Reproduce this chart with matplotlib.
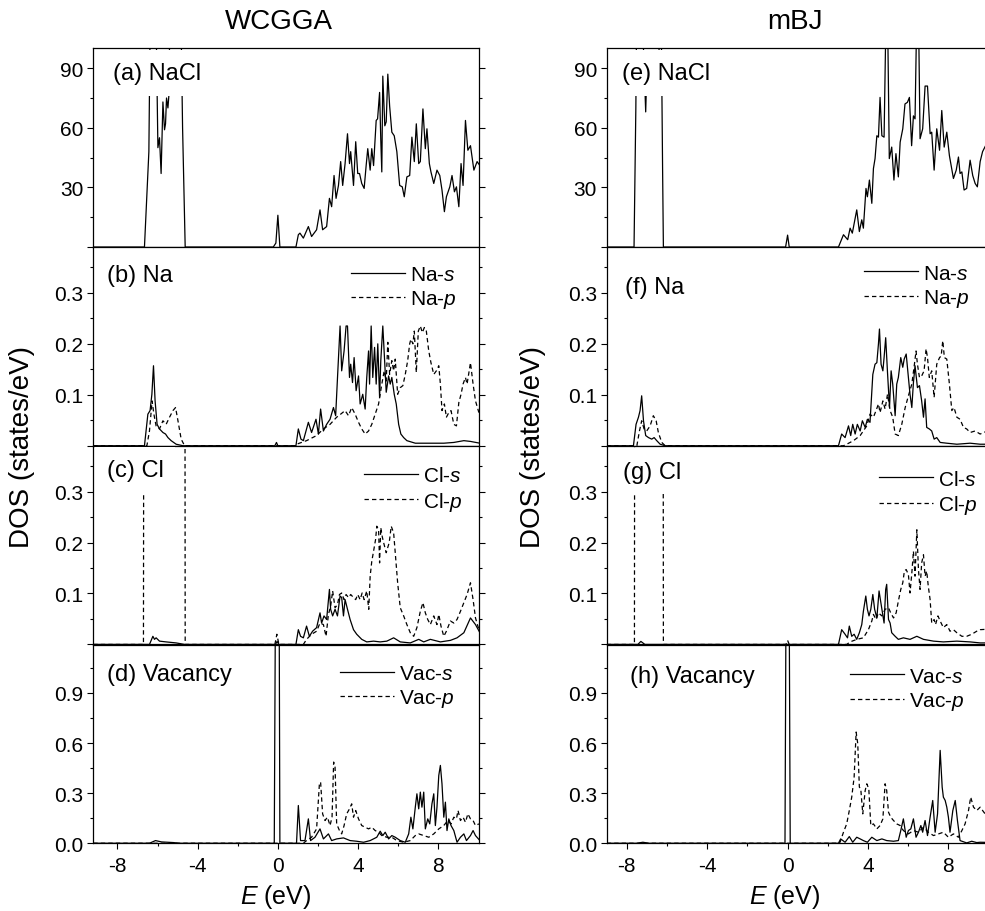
import matplotlib
matplotlib.use('Agg')
import matplotlib.pyplot as plt
from matplotlib.ticker import FixedLocator

plt.rcParams['font.family'] = ['Liberation Sans', 'DejaVu Sans']
plt.rcParams['mathtext.fontset'] = 'custom'
plt.rcParams['mathtext.rm'] = 'Liberation Sans'
plt.rcParams['mathtext.it'] = 'Liberation Sans:italic'
plt.rcParams['axes.unicode_minus'] = False

# ---------------- DATA ----------------
col_titles = ['WCGGA', 'mBJ']
panel_labels = [['(a) NaCl', '(b) Na', '(c) Cl', '(d) Vacancy'],
                ['(e) NaCl', '(f) Na', '(g) Cl', '(h) Vacancy']]
legend_labels = [['Na-$\\mathit{s}$', 'Na-$\\mathit{p}$'],
                 ['Cl-$\\mathit{s}$', 'Cl-$\\mathit{p}$'],
                 ['Vac-$\\mathit{s}$', 'Vac-$\\mathit{p}$']]
x_ticks = [-8, -4, 0, 4, 8]

# (a) WCGGA total NaCl
wc_tot_E = [-9.2, -6.65, -6.43, -6.35, -6.1, -6.05, -5.98, -5.9, -5.82, -5.73, -5.65, -5.6, -5.55, -5.48, -5.42,
            -5.38, -4.85, -4.75, -4.62, -0.23, -0.1, 0.0, 0.1, 0.9, 1.02, 1.1, 1.27, 1.52, 1.68, 1.93, 2.1, 2.23,
            2.43, 2.57, 2.68, 2.8, 2.9, 3.02, 3.13, 3.23, 3.35, 3.47, 3.57, 3.63, 3.77, 3.88, 3.98, 4.07, 4.18,
            4.3, 4.4, 4.48, 4.6, 4.68, 4.77, 4.9, 4.97, 5.07, 5.13, 5.18, 5.23, 5.33, 5.4, 5.48, 5.57, 5.68, 5.8,
            5.93, 6.07, 6.2, 6.3, 6.43, 6.57, 6.68, 6.8, 6.9, 7.02, 7.1, 7.23, 7.35, 7.43, 7.55, 7.63, 7.77, 7.93,
            8.07, 8.18, 8.3, 8.4, 8.57, 8.68, 8.8, 8.9, 9.02, 9.13, 9.23, 9.35, 9.47, 9.6, 9.77, 9.93, 10.07]
wc_tot_D = [0, 0, 48, 130, 130, 100, 50, 55, 37, 73, 59, 62, 75, 70, 78,
            130, 130, 60, 0, 0, 2, 16, 0, 0, 6.2, 7, 4.5, 10.3, 5.3, 8.7, 18.7, 8.7,
            10.3, 24.5, 20.3, 36, 24.5, 31, 43, 31, 42, 57, 42, 48, 31, 53, 37, 37, 32,
            29.5, 41, 49.5, 38.7, 49.5, 41, 63.7, 64.5, 77.8, 53.7, 37.8, 86, 61, 63, 87, 71, 57.8, 56,
            48, 31, 30.3, 25.3, 35.3, 36, 55.3, 43, 62, 42, 43, 69.5, 49.5, 59.5, 42, 37.8, 32, 38.7,
            36, 28.7, 17.8, 25.3, 30.3, 36, 27.8, 30.3, 20.3, 42, 31, 63.7, 48.7, 51, 38.7, 43, 41]

# (e) mBJ total NaCl
mb_tot_E = [-9.0, -7.64, -7.55, -7.5, -7.4, -7.3, -7.15, -7.06, -7.0, -6.8, -6.6, -6.4, -6.3, -6.22, -6.18,
            -0.1, 0.0, 0.08, 2.53, 2.78, 2.99, 3.11, 3.22, 3.44, 3.57, 3.69, 3.77, 3.9, 3.97, 4.07, 4.19, 4.27,
            4.35, 4.44, 4.52, 4.6, 4.69, 4.8, 4.9, 4.97, 5.06, 5.18, 5.29, 5.39, 5.51, 5.6, 5.73, 5.84, 5.96,
            6.06, 6.17, 6.26, 6.34, 6.43, 6.51, 6.59, 6.72, 6.84, 6.96, 7.09, 7.17, 7.29, 7.42, 7.56, 7.67,
            7.79, 7.92, 8.05, 8.25, 8.39, 8.5, 8.58, 8.67, 8.78, 8.91, 9.08, 9.21, 9.33, 9.44, 9.58, 9.7, 9.9]
mb_tot_D = [0, 0, 70, 130, 110, 130, 95, 68, 90, 95, 92, 98, 130, 40, 0,
            0, 6, 0, 0, 6.2, 3.7, 9.5, 7, 18.7, 7.8, 13.7, 9.5, 29.5, 25.3, 33.7, 22, 39.5,
            44.5, 56, 55.3, 75.3, 56, 55.3, 120, 120, 44.5, 50.3, 33.7, 47, 35.3, 52.8, 59.5, 72, 72.8,
            75.3, 51, 66, 64.5, 120, 120, 54.5, 59.5, 81, 81, 57, 57.8, 38.7, 59.5, 48.7, 68.7,
            50.3, 57.8, 46, 34.5, 38.7, 45.3, 37, 37.8, 28.7, 29.5, 43.7, 36, 32, 30.3, 43, 48, 52]

# (b) WCGGA Na-s / Na-p
wc_nas_E = [-9.2, -6.65, -6.48, -6.37, -6.28, -6.2, -6.12, -6.02, -5.9, -5.73, -5.6, -5.48, -5.32, -5.07, -4.73,
            -0.15, -0.07, 0.0, 0.9, 1.02, 1.15, 1.27, 1.52, 1.68, 1.9, 2.02, 2.13, 2.27, 2.43, 2.6, 2.77, 2.88,
            2.98, 3.1, 3.18, 3.3, 3.4, 3.47, 3.57, 3.63, 3.72, 3.8, 3.9, 4.02, 4.1, 4.23, 4.35, 4.43, 4.52,
            4.57, 4.65, 4.73, 4.82, 4.9, 4.98, 5.07, 5.13, 5.23, 5.33, 5.4, 5.52, 5.6, 5.68, 5.8, 5.9, 6.02,
            6.13, 6.27, 6.43, 6.85, 7.27, 7.77, 8.27, 8.77, 9.27, 9.6, 10.07]
wc_nas_D = [0, 0, 0.062, 0.069, 0.101, 0.157, 0.088, 0.042, 0.033, 0.026, 0.023, 0.016, 0.01, 0.003, 0,
            0, 0.0065, 0, 0, 0.033, 0.013, 0.01, 0.046, 0.026, 0.052, 0.023, 0.072, 0.029, 0.042, 0.052, 0.075, 0.059,
            0.14, 0.235, 0.147, 0.186, 0.235, 0.235, 0.134, 0.16, 0.124, 0.173, 0.108, 0.137, 0.082, 0.101, 0.072, 0.134, 0.186,
            0.121, 0.235, 0.134, 0.193, 0.121, 0.2, 0.095, 0.167, 0.235, 0.16, 0.105, 0.137, 0.121, 0.134, 0.101, 0.082, 0.042,
            0.023, 0.016, 0.01, 0.005, 0.005, 0.005, 0.005, 0.0065, 0.01, 0.0085, 0.005]
wc_nap_E = [-9.2, -6.53, -6.4, -6.27, -6.18, -6.07, -5.9, -5.73, -5.57, -5.4, -5.23, -5.1, -4.98, -4.82, -4.65,
            0.85, 0.93, 1.43, 1.93, 2.27, 2.6, 2.93, 3.13, 3.35, 3.52, 3.68, 3.85, 4.02, 4.18, 4.35, 4.52, 4.68,
            4.85, 5.02, 5.18, 5.3, 5.4, 5.48, 5.57, 5.68, 5.77, 5.85, 5.97, 6.1, 6.23, 6.35, 6.47, 6.57, 6.63,
            6.73, 6.8, 6.9, 7.0, 7.1, 7.2, 7.3, 7.4, 7.52, 7.63, 7.77, 7.9, 8.02, 8.1, 8.18, 8.3, 8.4, 8.52,
            8.63, 8.77, 8.9, 9.02, 9.13, 9.23, 9.35, 9.43, 9.6, 9.73, 9.85, 10.02]
wc_nap_D = [0, 0, 0.029, 0.088, 0.062, 0.039, 0.033, 0.049, 0.042, 0.056, 0.069, 0.075, 0.049, 0.013, 0,
            0, 0.003, 0.01, 0.02, 0.033, 0.042, 0.056, 0.062, 0.069, 0.059, 0.075, 0.062, 0.046, 0.033, 0.023, 0.029, 0.042,
            0.062, 0.082, 0.121, 0.147, 0.127, 0.203, 0.14, 0.167, 0.147, 0.17, 0.101, 0.114, 0.118, 0.14, 0.167, 0.2, 0.209,
            0.2, 0.225, 0.144, 0.225, 0.235, 0.222, 0.232, 0.225, 0.186, 0.163, 0.14, 0.147, 0.157, 0.121, 0.069, 0.082, 0.056, 0.065,
            0.069, 0.042, 0.039, 0.085, 0.101, 0.121, 0.134, 0.121, 0.163, 0.121, 0.088, 0.065]

# (f) mBJ Na-s / Na-p
mb_nas_E = [-9.0, -7.67, -7.54, -7.42, -7.34, -7.26, -7.17, -7.06, -6.92, -6.76, -6.64, -6.51, -6.34, -6.09,
            2.53, 2.69, 2.86, 3.03, 3.14, 3.24, 3.36, 3.47, 3.61, 3.72, 3.86, 3.97, 4.1, 4.24, 4.35, 4.44, 4.52,
            4.57, 4.65, 4.74, 4.8, 4.88, 4.97, 5.07, 5.15, 5.23, 5.35, 5.43, 5.51, 5.63, 5.73, 5.8, 5.9, 6.01,
            6.09, 6.18, 6.26, 6.34, 6.46, 6.56, 6.67, 6.76, 6.84, 6.92, 7.05, 7.17, 7.29, 7.42, 7.59, 7.92, 8.42,
            9.08, 9.58, 10.0]
mb_nas_D = [0, 0, 0.042, 0.056, 0.069, 0.098, 0.049, 0.02, 0.016, 0.013, 0.016, 0.01, 0.003, 0,
            0, 0.023, 0.016, 0.039, 0.02, 0.042, 0.023, 0.042, 0.029, 0.049, 0.036, 0.052, 0.046, 0.14, 0.16, 0.163, 0.2,
            0.229, 0.16, 0.147, 0.173, 0.212, 0.144, 0.075, 0.147, 0.121, 0.059, 0.121, 0.134, 0.173, 0.154, 0.17, 0.18, 0.134,
            0.101, 0.075, 0.124, 0.157, 0.114, 0.118, 0.088, 0.056, 0.092, 0.036, 0.033, 0.029, 0.013, 0.016, 0.0065, 0.005, 0.003,
            0.005, 0.003, 0.003]
mb_nap_E = [-9.0, -7.5, -7.37, -7.26, -7.14, -7.01, -6.84, -6.68, -6.54, -6.43, -6.26, -6.09,
            2.78, 2.94, 3.28, 3.61, 3.94, 4.1, 4.27, 4.4, 4.52, 4.6, 4.74, 4.85, 4.97, 5.1, 5.23, 5.35, 5.51,
            5.68, 5.85, 6.01, 6.18, 6.31, 6.39, 6.46, 6.56, 6.67, 6.79, 6.89, 6.96, 7.05, 7.17, 7.29, 7.42,
            7.56, 7.64, 7.72, 7.8, 7.92, 8.05, 8.17, 8.28, 8.42, 8.58, 8.75, 8.91, 9.08, 9.33, 9.58, 10.0]
mb_nap_D = [0, 0, 0.029, 0.049, 0.033, 0.029, 0.039, 0.059, 0.049, 0.026, 0.0065, 0,
            0, 0.003, 0.01, 0.02, 0.039, 0.062, 0.056, 0.069, 0.082, 0.065, 0.088, 0.072, 0.101, 0.069, 0.056, 0.023, 0.02,
            0.042, 0.075, 0.098, 0.121, 0.16, 0.186, 0.16, 0.134, 0.137, 0.147, 0.19, 0.173, 0.134, 0.147, 0.095, 0.16,
            0.173, 0.176, 0.206, 0.173, 0.17, 0.121, 0.069, 0.075, 0.056, 0.052, 0.036, 0.033, 0.026, 0.029, 0.023, 0.03]

# (c) WCGGA Cl-s / Cl-p
wc_cls_E = [-9.2, -6.4, -6.23, -6.15, -6.07, -5.9, -5.57, -5.07, -4.65, -0.12, -0.04, 0.05, 0.9, 1.02, 1.13,
            1.27, 1.43, 1.57, 1.73, 1.93, 2.1, 2.18, 2.3, 2.43, 2.57, 2.63, 2.73, 2.85, 2.97, 3.1, 3.18, 3.27,
            3.35, 3.47, 3.6, 3.77, 3.93, 4.18, 4.43, 4.77, 5.1, 5.43, 5.77, 6.1, 6.6, 7.02, 7.27, 7.6, 8.1,
            8.6, 8.93, 9.27, 9.6, 9.85, 10.07]
wc_cls_D = [0, 0, 0.016, 0.01, 0.013, 0.0065, 0.005, 0.003, 0, 0, 0.006, 0, 0, 0.029, 0.016,
            0.013, 0.036, 0.016, 0.026, 0.033, 0.062, 0.042, 0.056, 0.049, 0.108, 0.069, 0.056, 0.069, 0.056, 0.095, 0.092, 0.056,
            0.088, 0.069, 0.049, 0.029, 0.02, 0.01, 0.005, 0.0065, 0.005, 0.0065, 0.013, 0.005, 0.003, 0.01, 0.005, 0.01, 0.005,
            0.008, 0.013, 0.023, 0.052, 0.039, 0.023]
wc_clp_E = [-9.2, -6.7, -6.62, -4.68, -4.62, -0.15, -0.05, 0.05, 1.27, 1.43, 1.68, 1.93, 2.1, 2.27, 2.4,
            2.52, 2.63, 2.73, 2.85, 2.97, 3.07, 3.18, 3.3, 3.4, 3.52, 3.63, 3.77, 3.88, 3.98, 4.1, 4.2, 4.3,
            4.43, 4.53, 4.6, 4.68, 4.77, 4.87, 4.93, 5.02, 5.07, 5.13, 5.2, 5.27, 5.4, 5.55, 5.65, 5.77, 5.85,
            5.97, 6.1, 6.27, 6.43, 6.6, 6.77, 6.93, 7.1, 7.23, 7.35, 7.47, 7.6, 7.77, 7.93, 8.02, 8.13, 8.27,
            8.4, 8.6, 8.77, 8.93, 9.1, 9.27, 9.43, 9.6, 9.73, 9.85, 10.02]
wc_clp_D = [0, 0, 3.0, 3.0, 0, 0, 0.02, 0, 0, 0.01, 0.02, 0.026, 0.042, 0.039, 0.016,
            0.059, 0.075, 0.105, 0.072, 0.078, 0.098, 0.101, 0.088, 0.098, 0.092, 0.098, 0.092, 0.088, 0.098, 0.088, 0.101, 0.088,
            0.105, 0.069, 0.134, 0.163, 0.183, 0.206, 0.232, 0.225, 0.16, 0.229, 0.212, 0.2, 0.18, 0.2, 0.232, 0.219, 0.18,
            0.121, 0.072, 0.056, 0.039, 0.023, 0.016, 0.033, 0.065, 0.082, 0.062, 0.049, 0.039, 0.056, 0.039, 0.059, 0.036, 0.016,
            0.026, 0.046, 0.042, 0.049, 0.065, 0.082, 0.098, 0.121, 0.088, 0.052, 0.029]

# (g) mBJ Cl-s / Cl-p
mb_cls_E = [-9.0, -7.45, -7.3, -7.1, 2.53, 2.69, 2.86, 2.98, 3.07, 3.19, 3.31, 3.44, 3.57, 3.69, 3.77,
            3.89, 3.97, 4.05, 4.14, 4.24, 4.33, 4.44, 4.55, 4.64, 4.72, 4.8, 4.88, 4.93, 5.02, 5.1, 5.18,
            5.35, 5.51, 5.76, 6.09, 6.43, 6.76, 7.26, 7.75, 8.42, 9.08, 9.58, 10.0]
mb_cls_D = [0, 0, 0.006, 0, 0, 0.029, 0.02, 0.013, 0.036, 0.016, 0.02, 0.01, 0.023, 0.039, 0.065,
            0.095, 0.069, 0.056, 0.069, 0.098, 0.069, 0.052, 0.105, 0.082, 0.062, 0.042, 0.108, 0.118, 0.049, 0.042, 0.023,
            0.016, 0.01, 0.013, 0.01, 0.016, 0.01, 0.0065, 0.005, 0.0065, 0.005, 0.003, 0.003]
mb_clp_E = [-9.0, -7.62, -7.56, -6.24, -6.18, -0.08, 0.0, 0.08, 2.94, 3.11, 3.44, 3.77, 4.02, 4.19, 4.27,
            4.4, 4.52, 4.69, 4.85, 5.02, 5.13, 5.27, 5.4, 5.51, 5.63, 5.73, 5.81, 5.9, 6.01, 6.09, 6.18,
            6.26, 6.34, 6.43, 6.51, 6.59, 6.67, 6.76, 6.84, 6.92, 7.0, 7.09, 7.17, 7.29, 7.36, 7.48, 7.59,
            7.75, 7.92, 8.08, 8.25, 8.42, 8.67, 8.91, 9.16, 9.41, 9.58, 10.0]
mb_clp_D = [0, 0, 3.0, 3.0, 0, 0, 0.008, 0, 0, 0.005, 0.01, 0.013, 0.029, 0.046, 0.059,
            0.049, 0.062, 0.056, 0.069, 0.072, 0.062, 0.052, 0.062, 0.085, 0.108, 0.121, 0.144, 0.147, 0.137, 0.101, 0.14,
            0.183, 0.134, 0.225, 0.147, 0.108, 0.16, 0.176, 0.134, 0.144, 0.114, 0.088, 0.042, 0.049, 0.039, 0.056, 0.046,
            0.033, 0.039, 0.026, 0.029, 0.023, 0.016, 0.016, 0.02, 0.026, 0.029, 0.03]

# (d) WCGGA Vac-s / Vac-p
wc_vs_E = [-9.2, -6.4, -6.1, -5.8, -5.2, -4.9, -0.18, -0.1, 0.0, 0.05, 0.1, 0.9, 0.93, 1.02, 1.13, 1.35,
           1.52, 1.63, 1.85, 2.1, 2.27, 2.52, 2.68, 2.93, 3.27, 3.6, 3.93, 4.27, 4.6, 4.93, 5.1, 5.23, 5.35,
           5.52, 5.68, 5.85, 6.1, 6.35, 6.52, 6.63, 6.73, 6.85, 6.93, 7.02, 7.1, 7.18, 7.27, 7.35, 7.47, 7.57,
           7.68, 7.77, 7.85, 7.93, 8.02, 8.1, 8.18, 8.27, 8.35, 8.43, 8.52, 8.63, 8.77, 8.93, 9.1, 9.27, 9.4,
           9.6, 9.73, 9.85, 10.07]
wc_vs_D = [0, 0, 0.016, 0.008, 0.004, 0, 0, 2.0, 4.0, 2.0, 0, 0, 0.002, 0.226, 0.016, 0.016,
           0.146, 0.016, 0.036, 0.086, 0.026, 0.056, 0.016, 0.026, 0.032, 0.016, 0.012, 0.006, 0.016, 0.036, 0.072, 0.046, 0.066,
           0.026, 0.046, 0.036, 0.016, 0.006, 0.056, 0.156, 0.086, 0.216, 0.296, 0.206, 0.306, 0.216, 0.306, 0.086, 0.146, 0.116,
           0.236, 0.296, 0.106, 0.216, 0.406, 0.466, 0.356, 0.156, 0.246, 0.076, 0.146, 0.106, 0.076, 0.006, 0.036, 0.056, 0.016,
           0.046, 0.076, 0.046, 0.016]
wc_vp_E = [-9.2, 1.27, 1.43, 1.68, 1.93, 2.07, 2.13, 2.23, 2.35, 2.47, 2.6, 2.7, 2.78, 2.85, 2.93, 3.07,
           3.18, 3.3, 3.43, 3.57, 3.68, 3.77, 3.88, 4.02, 4.18, 4.35, 4.52, 4.68, 4.85, 5.02, 5.18, 5.43, 5.68,
           5.93, 6.27, 6.6, 6.85, 7.02, 7.27, 7.52, 7.77, 8.02, 8.27, 8.47, 8.63, 8.77, 8.9, 8.98, 9.1, 9.23,
           9.35, 9.47, 9.6, 9.73, 9.85, 10.02]
wc_vp_D = [0, 0, 0.016, 0.036, 0.086, 0.356, 0.366, 0.176, 0.136, 0.156, 0.106, 0.156, 0.486, 0.456, 0.116, 0.076,
           0.056, 0.106, 0.176, 0.206, 0.236, 0.156, 0.196, 0.146, 0.106, 0.096, 0.086, 0.096, 0.076, 0.066, 0.046, 0.036, 0.036,
           0.016, 0.006, 0.016, 0.046, 0.056, 0.046, 0.036, 0.056, 0.086, 0.106, 0.136, 0.116, 0.156, 0.146, 0.196, 0.136, 0.156,
           0.126, 0.176, 0.146, 0.136, 0.106, 0.116]

# (h) mBJ Vac-s / Vac-p
mb_vs_E = [-9.0, -7.5, -7.2, -6.9, -0.13, -0.06, 0.0, 0.06, 0.13, 2.53, 2.64, 2.86, 3.07, 3.24, 3.44, 3.61,
           3.77, 3.97, 4.19, 4.44, 4.69, 4.93, 5.27, 5.51, 5.63, 5.76, 5.9, 6.01, 6.13, 6.26, 6.39, 6.51, 6.63,
           6.72, 6.84, 6.96, 7.09, 7.22, 7.34, 7.46, 7.59, 7.69, 7.75, 7.84, 7.92, 8.0, 8.08, 8.22, 8.34, 8.45,
           8.58, 8.91, 9.16, 9.41, 9.58, 10.0]
mb_vs_D = [0, 0, 0.006, 0, 0, 2.0, 4.0, 2.0, 0, 0, 0.026, 0.006, 0.04, 0.006, 0.036, 0.026,
           0.016, 0.006, 0.036, 0.016, 0.026, 0.016, 0.012, 0.016, 0.076, 0.146, 0.036, 0.076, 0.086, 0.146, 0.036, 0.066, 0.106,
           0.066, 0.136, 0.046, 0.156, 0.256, 0.066, 0.176, 0.556, 0.336, 0.276, 0.256, 0.216, 0.156, 0.066, 0.196, 0.256, 0.136,
           0.016, 0.002, 0.012, 0.004, 0.006, 0.005]
mb_vp_E = [-9.0, 2.45, 2.61, 2.78, 2.94, 3.07, 3.19, 3.31, 3.41, 3.49, 3.57, 3.64, 3.74, 3.86, 3.94, 4.04,
           4.14, 4.27, 4.44, 4.6, 4.74, 4.85, 4.93, 5.02, 5.13, 5.27, 5.43, 5.6, 5.76, 6.01, 6.26, 6.51, 6.76,
           7.0, 7.26, 7.51, 7.75, 8.0, 8.25, 8.5, 8.67, 8.83, 9.0, 9.11, 9.25, 9.41, 9.58, 9.8, 10.0]
mb_vp_D = [0, 0, 0.006, 0.066, 0.116, 0.196, 0.276, 0.396, 0.666, 0.596, 0.336, 0.326, 0.176, 0.316, 0.356, 0.326,
           0.106, 0.116, 0.086, 0.106, 0.146, 0.356, 0.316, 0.186, 0.156, 0.136, 0.116, 0.106, 0.076, 0.056, 0.076, 0.066, 0.096,
           0.066, 0.046, 0.056, 0.066, 0.036, 0.056, 0.036, 0.076, 0.116, 0.196, 0.276, 0.216, 0.196, 0.216, 0.18, 0.2]

# ---------------- FIGURE ----------------
W, H = 985, 912
fig = plt.figure(figsize=(W / 100, H / 100), dpi=100)

cols = [dict(l=93.3, r=478.5, xlim=(-9.2, 10.0)), dict(l=606.7, r=988.6, xlim=(-9.0, 10.0))]
row_top = [49.3, 248.0, 446.7, 645.5]
row_h = 198.75

data = [
    [[(wc_tot_E, wc_tot_D)], [(wc_nas_E, wc_nas_D), (wc_nap_E, wc_nap_D)],
     [(wc_cls_E, wc_cls_D), (wc_clp_E, wc_clp_D)], [(wc_vs_E, wc_vs_D), (wc_vp_E, wc_vp_D)]],
    [[(mb_tot_E, mb_tot_D)], [(mb_nas_E, mb_nas_D), (mb_nap_E, mb_nap_D)],
     [(mb_cls_E, mb_cls_D), (mb_clp_E, mb_clp_D)], [(mb_vs_E, mb_vs_D), (mb_vp_E, mb_vp_D)]],
]

yspec = [
    dict(lim=(0, 100), major=[0, 30, 60, 90], labels=['', '30', '60', '90'], minor=[15, 45, 75]),
    dict(lim=(0, 0.39), major=[0, 0.1, 0.2, 0.3], labels=['', '0.1', '0.2', '0.3'], minor=[0.05, 0.15, 0.25, 0.35]),
    dict(lim=(0, 0.39), major=[0, 0.1, 0.2, 0.3], labels=['', '0.1', '0.2', '0.3'], minor=[0.05, 0.15, 0.25, 0.35]),
    dict(lim=(0, 1.19), major=[0, 0.3, 0.6, 0.9], labels=['0.0', '0.3', '0.6', '0.9'], minor=[0.15, 0.45, 0.75, 1.05]),
]

label_pos = [[(0.050, 0.931), (0.035, 0.914), (0.035, 0.933), (0.035, 0.908)],
             [(0.039, 0.931), (0.048, 0.856), (0.043, 0.925), (0.061, 0.899)]]
leg_pos = [[None, (0.944, 0.909), (0.960, 0.896), (0.939, 0.901)],
           [None, (0.951, 0.916), (0.972, 0.879), (0.938, 0.888)]]

dash = (0, (3.5, 2.5))
for ci, c in enumerate(cols):
    for ri in range(4):
        top = row_top[ri]
        ax = fig.add_axes([c['l'] / W, 1 - (top + row_h) / H, (c['r'] - c['l']) / W, row_h / H])
        styles = ['-', dash]
        lines = []
        for k, (xs, ys) in enumerate(data[ci][ri]):
            ln, = ax.plot(xs, ys, color='black', lw=0.9, linestyle=styles[k])
            lines.append(ln)
        ax.set_xlim(*c['xlim'])
        ys = yspec[ri]
        ax.set_ylim(*ys['lim'])
        ax.yaxis.set_major_locator(FixedLocator(ys['major']))
        ax.set_yticklabels(ys['labels'])
        ax.yaxis.set_minor_locator(FixedLocator(ys['minor']))
        ax.xaxis.set_major_locator(FixedLocator(x_ticks))
        ax.xaxis.set_minor_locator(FixedLocator([-6, -2, 2, 6]))
        ax.tick_params(which='both', direction='out', right=True, top=False, width=0.8, labelsize=15, pad=3)
        ax.tick_params(which='major', length=4)
        ax.tick_params(which='minor', length=2.5)
        if ri < 3:
            ax.set_xticklabels([])
        else:
            ax.tick_params(axis='x', pad=5)
        for s in ax.spines.values():
            s.set_linewidth(0.9)
        lx, ly = label_pos[ci][ri]
        ax.text(lx, ly, panel_labels[ci][ri], transform=ax.transAxes, ha='left', va='top', fontsize=17,
                bbox=dict(facecolor='white', edgecolor='none', boxstyle='square,pad=0.5'), zorder=5)
        if ri > 0:
            ax.legend(lines, legend_labels[ri - 1], loc='upper right', bbox_to_anchor=leg_pos[ci][ri],
                      frameon=False, fontsize=15, handlelength=2.6, handletextpad=0.25, labelspacing=0.2,
                      borderpad=0, borderaxespad=0)

fig.text(279 / W, 1 - 22 / H, col_titles[0], ha='center', va='center', fontsize=20)
fig.text(795 / W, 1 - 22 / H, col_titles[1], ha='center', va='center', fontsize=20)
fig.text(22 / W, 1 - 447 / H, 'DOS (states/eV)', rotation=90, ha='center', va='center', fontsize=20)
fig.text(533 / W, 1 - 447 / H, 'DOS (states/eV)', rotation=90, ha='center', va='center', fontsize=20)
fig.text(276 / W, 1 - 897 / H, '$\\mathit{E}$ (eV)', ha='center', va='center', fontsize=18)
fig.text(785 / W, 1 - 897 / H, '$\\mathit{E}$ (eV)', ha='center', va='center', fontsize=18)

fig.savefig('out.png', dpi=100)
